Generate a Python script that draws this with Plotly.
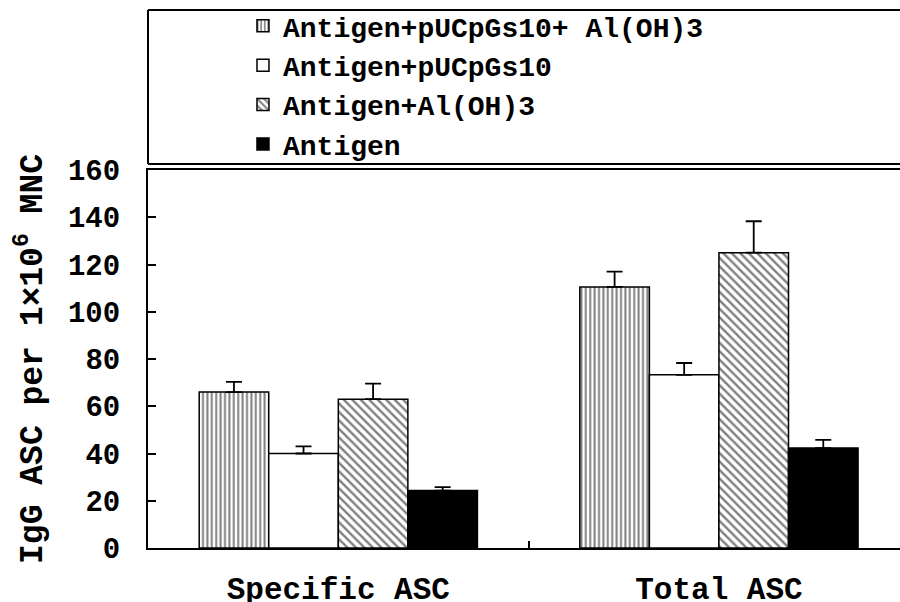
import plotly.graph_objects as go

categories = ["Specific ASC", "Total ASC"]
series_names = [
    "Antigen+pUCpGs10+ Al(OH)3",
    "Antigen+pUCpGs10",
    "Antigen+Al(OH)3",
    "Antigen",
]
values = [
    [66, 110.5],
    [40, 73.3],
    [63, 125],
    [24.3, 42.3],
]
errors = [
    [4.3, 6.5],
    [3.0, 5.0],
    [6.6, 13.3],
    [1.5, 3.5],
]
y_ticks = [0, 20, 40, 60, 80, 100, 120, 140, 160]

styles = [
    dict(color="white", pattern=dict(shape="|", size=4.4, solidity=0.45, fgcolor="black", bgcolor="white")),
    dict(color="white"),
    dict(color="white", pattern=dict(shape="\\", size=6, solidity=0.4, fgcolor="black", bgcolor="white")),
    dict(color="black"),
]

FONT = "Liberation Mono"

fig = go.Figure()
for name, vals, errs, st in zip(series_names, values, errors, styles):
    marker = dict(line=dict(color="black", width=1.5), **st)
    fig.add_trace(go.Bar(
        name=name, x=categories, y=vals, marker=marker,
        error_y=dict(type="data", array=errs, arrayminus=[0] * len(errs),
                     symmetric=False, color="black", thickness=1.8, width=8),
    ))

box_line = dict(color="black", width=2)

fig.update_layout(
    width=900, height=602,
    margin=dict(l=148, r=0, t=170, b=54, autoexpand=False),
    paper_bgcolor="white", plot_bgcolor="white",
    barmode="group", bargap=0.269, bargroupgap=0,
    font=dict(family=FONT, weight="bold", color="black"),
    showlegend=True,
    legend=dict(
        x=0.1263, y=1.447, xanchor="left", yanchor="top",
        font=dict(family=FONT, size=28, weight="bold", color="black"),
        bgcolor="rgba(0,0,0,0)", borderwidth=0,
        tracegroupgap=0,
    ),
    xaxis=dict(
        type="category", range=[-0.5, 1.4757], automargin=False,
        showline=True, linecolor="black", linewidth=2, mirror=True,
        ticks="inside", tickson="boundaries", ticklen=7, tickwidth=1.5, tickcolor="black",
        showgrid=False, zeroline=False,
        tickfont=dict(family=FONT, size=31, weight="bold", color="black"),
        ticklabelstandoff=12,
    ),
    yaxis=dict(
        range=[0, 160], tickvals=y_ticks, automargin=False,
        showline=True, linecolor="black", linewidth=2,
        ticks="inside", ticklen=8, tickwidth=1.5, tickcolor="black",
        showgrid=False, zeroline=False,
        tickfont=dict(family=FONT, size=29, weight="bold", color="black"),
        ticklabelstandoff=20,
    ),
    shapes=[
        dict(type="line", xref="paper", yref="paper", x0=0, x1=1.1, y0=1.4233, y1=1.4233, line=box_line),
        dict(type="line", xref="paper", yref="paper", x0=0, x1=1.1, y0=1.0159, y1=1.0159, line=box_line),
        dict(type="line", xref="paper", yref="paper", x0=0, x1=0, y0=1.0159, y1=1.4233, line=box_line),
    ],
    annotations=[
        dict(text="IgG ASC per 1×10<sup>6</sup> MNC", xref="paper", yref="paper",
             x=-0.157, y=0.5, xanchor="center", yanchor="middle", textangle=-90,
             showarrow=False, font=dict(family=FONT, size=33, weight="bold", color="black")),
    ],
)

fig.write_html(
    "out.html",
    config={"displayModeBar": False},
    post_script="document.body.style.margin='0';document.body.style.overflow='hidden';",
)
